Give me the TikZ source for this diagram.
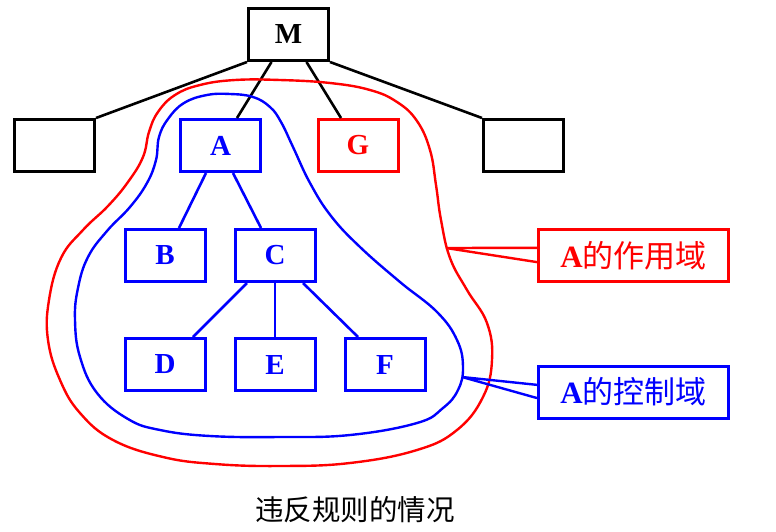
\documentclass[tikz,border=0pt]{standalone}
\usepackage{fontspec}
\setmainfont{Liberation Serif}
\newfontfamily\cjk{Noto Sans CJK SC}
\usetikzlibrary{calc}
\definecolor{cblue}{RGB}{0,0,255}
\definecolor{cred}{RGB}{255,0,0}
\begin{document}
\begin{tikzpicture}[x=1pt,y=-1pt,
  module/.style={draw,line width=3pt,minimum width=80pt,minimum height=52pt,inner sep=0pt,
    font=\fontsize{29}{29}\selectfont\bfseries},
  ctrl/.style={module,draw=cblue,text=cblue},
  effect/.style={module,draw=cred,text=cred},
  link/.style={line width=2.6pt},
  region/.style={line width=2.4pt},
  tag/.style={draw,line width=3pt,minimum width=190pt,minimum height=52pt,inner sep=0pt,
    font=\fontsize{31}{31}\selectfont}]
\useasboundingbox (0,0) rectangle (776,531);

% module tree
\node[module] (M) at (288.5,34.5) {M};
\node[module] (L) at (54.5,145.5) {};
\node[ctrl] (A) at (220.5,145.5) {A};
\node[effect] (G) at (358,145.5) {G};
\node[module] (R) at (523.5,145.5) {};
\node[ctrl] (B) at (165,255.5) {B};
\node[ctrl] (C) at (275,255.5) {C};
\node[ctrl] (D) at (165,364.5) {D};
\node[ctrl] (E) at (275,364.5) {E};
\node[ctrl] (F) at (385,364.5) {F};

\draw[link] (M.south west) -- (L.north east);
\draw[link] ($(M.south)+(-17,0)$) -- ($(A.north)+(16.5,0)$);
\draw[link] ($(M.south)+(18,0)$) -- ($(G.north)+(-17,0)$);
\draw[link] (M.south east) -- (R.north west);
\draw[link,cblue] ($(A.south)+(-14.5,0)$) -- ($(B.north)+(14,0)$);
\draw[link,cblue] ($(A.south)+(12.5,0)$) -- ($(C.north)+(-14,0)$);
\draw[link,cblue] ($(C.south)+(-28,0)$) -- ($(D.north)+(28,0)$);
\draw[link,cblue] (C.south) -- (E.north);
\draw[link,cblue] ($(C.south)+(28,0)$) -- ($(F.north)+(-27,0)$);

% scope of effect of A
\draw[region,cred] plot[smooth cycle,tension=0.7] coordinates {
  (149,132) (158,112) (175,95) (200,85) (235,80) (280,80) (330,83) (370,90)
  (397,102) (417,121) (430,150) (436,185) (441,220) (450,258) (467,290)
  (487,323) (492,360) (483,397) (457,430) (417,450) (350,463) (280,466)
  (215,464) (163,457) (113,440) (80,413) (60,380) (48,340) (49,300)
  (61,258) (83,230) (108,206) (128,182) (143,157)};

% scope of control of A
\draw[region,cblue] plot[smooth cycle,tension=0.7] coordinates {
  (156,160) (159,137) (168,119) (184,103) (207,95) (230,94) (253,97)
  (270,107) (281,122) (293,147) (310,183) (331,216) (360,247) (400,282)
  (437,312) (457,340) (463,367) (458,390) (443,408) (417,423) (350,435)
  (280,437) (210,436) (160,430) (128,419) (97,393) (80,357) (75,320)
  (78,288) (88,257) (107,231) (130,207) (147,183)};

% callout labels
\node[tag,draw=cred,text=cred] (T1) at (633.5,255.5) {\textbf{A}\cjk 的作用域};
\node[tag,draw=cblue,text=cblue] (T2) at (633.5,392) {\textbf{A}\cjk 的控制域};
\coordinate (P1) at (446,248);
\coordinate (P2) at (462,377);
\draw[region,cred] ($(T1.north west)!0.36!(T1.south west)$) -- (P1)
  -- ($(T1.north west)!0.62!(T1.south west)$);
\draw[region,cblue] ($(T2.north west)!0.37!(T2.south west)$) -- (P2)
  -- ($(T2.north west)!0.61!(T2.south west)$);

% caption
\node[font=\cjk\fontsize{28.5}{28.5}\selectfont] (cap) at (355,510) {违反规则的情况};
\end{tikzpicture}
\end{document}
